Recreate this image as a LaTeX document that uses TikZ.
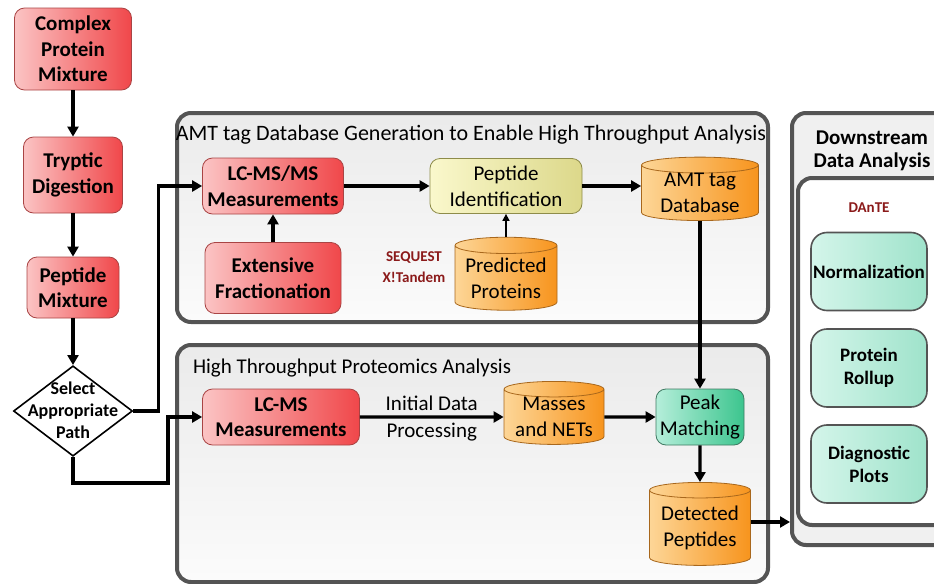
\documentclass[tikz,border=0pt]{standalone}
\usepackage{fontspec}
\setmainfont{Carlito}
\usepackage{xcolor}
\usepackage{tikz}
\usetikzlibrary{shapes,positioning,arrows.meta}

\definecolor{redlight}{HTML}{FBC4C4}
\definecolor{reddark}{HTML}{F0474A}
\definecolor{redline}{HTML}{A94444}
\definecolor{yellight}{HTML}{FAF8CC}
\definecolor{yeldark}{HTML}{DCD88A}
\definecolor{yelline}{HTML}{8E8C4A}
\definecolor{orlight}{HTML}{FDD697}
\definecolor{ordark}{HTML}{F7941D}
\definecolor{orline}{HTML}{A8671C}
\definecolor{grlight}{HTML}{B5EEDA}
\definecolor{grdark}{HTML}{3CC58E}
\definecolor{grline}{HTML}{3F7A62}
\definecolor{mintlight}{HTML}{D4F5EA}
\definecolor{mintdark}{HTML}{9FE3CB}
\definecolor{panelline}{HTML}{545454}
\definecolor{dantered}{HTML}{8B1A1A}

\begin{document}
\begin{tikzpicture}[%
  x=0.5pt, y=-0.5pt,
  every node/.style={align=center,font=\fontsize{10.5}{12.8}\selectfont},
  redbox/.style={draw=redline,rounded corners=5pt,inner sep=0pt,left color=redlight,right color=reddark,font=\bfseries\fontsize{10.5}{12.8}\selectfont},
  yelbox/.style={draw=yelline,rounded corners=5pt,inner sep=0pt,left color=yellight,right color=yeldark},
  grnbox/.style={draw=grline,rounded corners=5pt,inner sep=0pt,left color=grlight,right color=grdark},
  mintbox/.style={draw=panelline,thick,rounded corners=8pt,inner sep=0pt,left color=mintlight,right color=mintdark,minimum width=58pt,minimum height=39pt,font=\bfseries\fontsize{9.5}{11.5}\selectfont},
  store/.style={cylinder,shape border rotate=90,aspect=0.2,draw=orline,inner sep=0pt,left color=orlight,right color=ordark},
  decide/.style={diamond,draw=black,thick,fill=white,inner sep=0pt,font=\bfseries\fontsize{9}{11}\selectfont},
  panel/.style={draw=panelline,line width=2pt,rounded corners=7pt,top color=gray!16,bottom color=gray!3},
  tool/.style={text=dantered,font=\bfseries\fontsize{7.5}{10.5}\selectfont},
  flow/.style={-{Triangle[length=5pt,width=5.5pt]},line width=1.6pt},
  thinflow/.style={-{Triangle[length=3.5pt,width=3.5pt]},line width=0.8pt}
]
  \useasboundingbox (0,0) rectangle (934,584);

  \node (amtpanel) at (472.5,217.5) [panel,minimum width=295.5pt,minimum height=104.5pt] {};
  \node (htpanel) at (472.5,463.5) [panel,minimum width=295.5pt,minimum height=118.5pt] {};
  \node (downpanel) at (880,329) [panel,top color=gray!12,bottom color=gray!12,minimum width=88pt,minimum height=216pt] {};
  \node (dantepanel) at (883,351.5) [panel,top color=white,bottom color=white,minimum width=85pt,minimum height=173.5pt] {};

  \node (complex) at (73,49) [redbox,minimum width=58.5pt,minimum height=41pt] {Complex\\Protein\\Mixture};
  \node (tryptic) at (73,175) [redbox,minimum width=49.5pt,minimum height=38pt] {Tryptic\\Digestion};
  \node (pepmix) at (73,287.5) [redbox,minimum width=46pt,minimum height=30.5pt] {Peptide\\Mixture};
  \node (select) at (73,411) [decide,minimum width=59.5pt,minimum height=44pt] {\smash{\raisebox{-3pt}{\begin{tabular}{@{}c@{}}Select\\Appropriate\\Path\end{tabular}}}};

  \node (amttitle) at (471,135) [font=\fontsize{11}{14}\selectfont] {AMT tag Database Generation to Enable High Throughput Analysis};
  \node (lcmsms) at (273,186) [redbox,minimum width=70.5pt,minimum height=28pt] {LC-MS/MS\\Measurements};
  \node (pepid) at (506,186) [yelbox,minimum width=76pt,minimum height=27.5pt] {Peptide\\Identification};
  \node (amtdb) at (700,193) [store,minimum width=58.5pt,minimum height=31.5pt] {AMT tag\\Database};
  \node (xfrac) at (273,278) [redbox,minimum width=68pt,minimum height=35.5pt] {Extensive\\Fractionation};
  \node (search) at (414,267) [tool] {SEQUEST\\X!Tandem};
  \node (predprot) at (506,278) [store,minimum width=51pt,minimum height=36.5pt] {Predicted\\Proteins};

  \node (httitle) at (186,368) [anchor=west,font=\fontsize{10.5}{12}\selectfont] {High Throughput Proteomics Analysis};
  \node (lcms) at (281,417) [redbox,minimum width=78.5pt,minimum height=28pt] {LC-MS\\Measurements};
  \node (masses) at (554,417) [store,minimum width=50pt,minimum height=31.5pt] {Masses\\and NETs};
  \node (peak) at (700,417) [grnbox,minimum width=44pt,minimum height=28pt] {Peak\\Matching};
  \node (detected) at (700,528) [store,minimum width=50.5pt,minimum height=41.5pt] {Detected\\Peptides};

  \node (downtitle) at (872,151) [font=\bfseries\fontsize{10.5}{11.5}\selectfont] {Downstream\\Data Analysis};
  \node (dante) at (869,208) [tool] {DAnTE};
  \node (norm) at (869,271.5) [mintbox] {Normalization};
  \node (rollup) at (869,368) [mintbox] {Protein\\Rollup};
  \node (diag) at (869,464) [mintbox] {Diagnostic\\Plots};

  \coordinate (lowbend) at (168,483);
  \draw [flow] (complex) -- (tryptic);
  \draw [flow] (tryptic) -- (pepmix);
  \draw [flow] (pepmix) -- (select);
  \draw [flow] (select.east) -- ++(25,0) |- (lcmsms.west);
  \draw [flow] (select.south) |- (lowbend) |- (lcms.west);
  \draw [flow] (xfrac) -- (lcmsms);
  \draw [flow] (lcmsms) -- (pepid);
  \draw [flow] (pepid.east) -- (pepid.east -| amtdb.west);
  \draw [thinflow] (predprot) -- (pepid);
  \draw [flow] (amtdb) -- (peak);
  \draw [flow] (lcms) -- (masses)
    node [midway,above=-1pt] (initlbl) {Initial Data}
    node [midway,below=-1pt] (proclbl) {Processing};
  \draw [flow] (masses) -- (peak);
  \draw [flow] (peak) -- (detected);
  \draw [flow] ([yshift=3pt]detected.east) -- ([yshift=3pt]detected.east -| downpanel.west);
\end{tikzpicture}
\end{document}
